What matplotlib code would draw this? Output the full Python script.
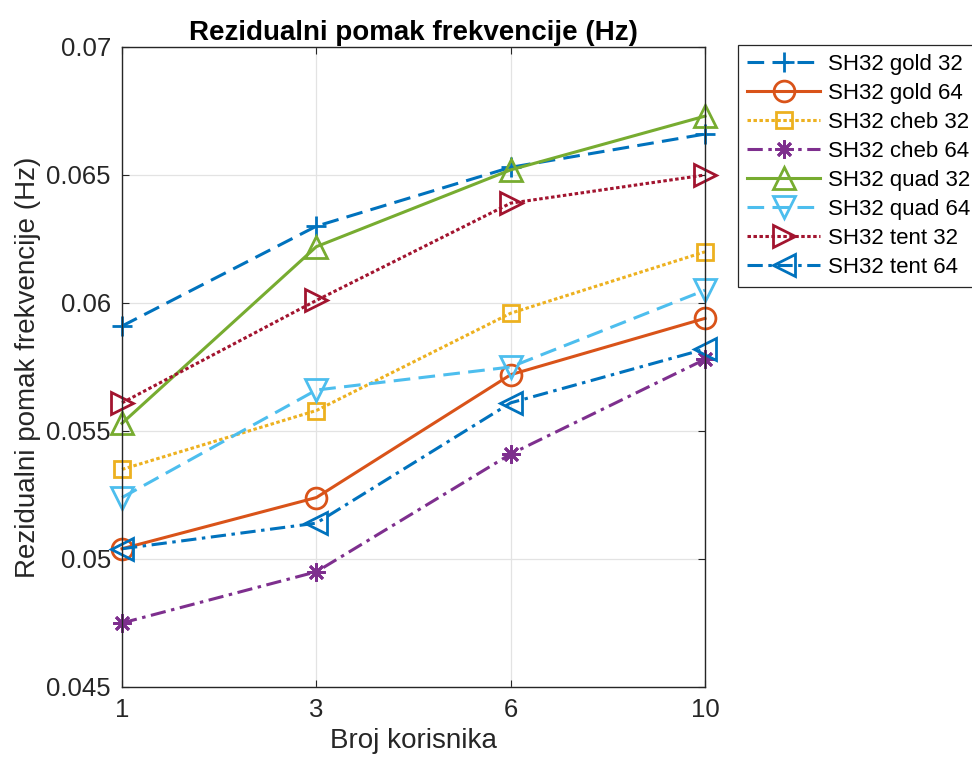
import matplotlib
matplotlib.use('Agg')
import matplotlib.pyplot as plt
from matplotlib import font_manager
from matplotlib.ticker import FuncFormatter

# broj korisnika
users = ['1', '3', '6', '10']

gold32 = [0.0591, 0.0630, 0.0653, 0.0666]
gold64 = [0.0504, 0.0524, 0.0572, 0.0594]
cheb32 = [0.0535, 0.0558, 0.0596, 0.0620]
cheb64 = [0.0475, 0.0495, 0.0541, 0.0578]
quad32 = [0.0553, 0.0622, 0.0652, 0.0673]
quad64 = [0.0524, 0.0566, 0.0575, 0.0605]
tent32 = [0.0561, 0.0601, 0.0639, 0.0650]
tent64 = [0.0504, 0.0514, 0.0561, 0.0582]

labels = ['SH32 gold 32', 'SH32 gold 64', 'SH32 cheb 32', 'SH32 cheb 64',
          'SH32 quad 32', 'SH32 quad 64', 'SH32 tent 32', 'SH32 tent 64']

names = {f.name for f in font_manager.fontManager.ttflist}
if 'Liberation Sans Narrow' in names:
    axfont = ['Liberation Sans Narrow', 'Liberation Sans']
    tick_fs, lab_fs = 22.5, 24.5
else:
    axfont = ['Liberation Sans']
    tick_fs, lab_fs = 18.5, 20

plt.rcParams['font.family'] = axfont
plt.rcParams['lines.scale_dashes'] = False

dash = (0, (12, 6))
dot = (0, (2.5, 1.8))
dashdot = (0, (11, 4, 2.5, 4))

series = [
    (gold32, '#0072BD', dash, '+', 15),
    (gold64, '#D95319', '-', 'o', 15),
    (cheb32, '#EDB120', dot, 's', 11),
    (cheb64, '#7E2F8E', dashdot, (8, 2, 0), 13),
    (quad32, '#77AC30', '-', '^', 16),
    (quad64, '#4DBEEE', dash, 'v', 16),
    (tent32, '#A2142F', dot, '>', 16),
    (tent64, '#0072BD', dashdot, '<', 16),
]

fig = plt.figure(figsize=(9.72, 7.65), dpi=100)
ax = fig.add_axes([122/972, 78/765, 583/972, 640/765])

x = list(range(len(users)))
for (vals, col, ls, mk, ms), lab in zip(series, labels):
    ax.plot(x, vals, color=col, linestyle=ls, linewidth=2.2, marker=mk,
            markersize=ms, markerfacecolor='none', markeredgecolor=col,
            markeredgewidth=2.0, label=lab, clip_on=False)

ax.set_xlim(0, 3)
ax.set_ylim(0.045, 0.07)
ax.set_xticks(x)
ax.set_xticklabels(users)
ax.set_yticks([0.045, 0.05, 0.055, 0.06, 0.065, 0.07])
ax.yaxis.set_major_formatter(FuncFormatter(lambda v, p: '%g' % round(v, 4)))

ax.grid(True, color='#e3e3e3', linewidth=0.9)
ax.set_axisbelow(True)
for s in ax.spines.values():
    s.set_color('#262626')
    s.set_linewidth(1.0)
ax.tick_params(direction='in', length=5, width=0.8, colors='#262626',
               labelsize=tick_fs, top=True, right=True, pad=8)

ax.set_xlabel('Broj korisnika', fontsize=lab_fs, color='#262626', labelpad=4)
ax.set_ylabel('Rezidualni pomak frekvencije (Hz)', fontsize=lab_fs,
              color='#262626', labelpad=4)
ax.set_title('Rezidualni pomak frekvencije (Hz)', fontsize=lab_fs,
             fontweight='bold', color='black', pad=5)

leg = ax.legend(loc='upper left', bbox_to_anchor=(738/972, 1 - 45/765),
                bbox_transform=fig.transFigure, borderaxespad=0,
                prop={'family': 'Liberation Sans', 'size': 16},
                handlelength=3.3, handletextpad=0.36, labelspacing=0.36,
                borderpad=0.4, numpoints=1, fancybox=False, framealpha=1)
leg.get_frame().set_edgecolor('#262626')
leg.get_frame().set_linewidth(0.9)

fig.savefig('out.png', dpi=100)
